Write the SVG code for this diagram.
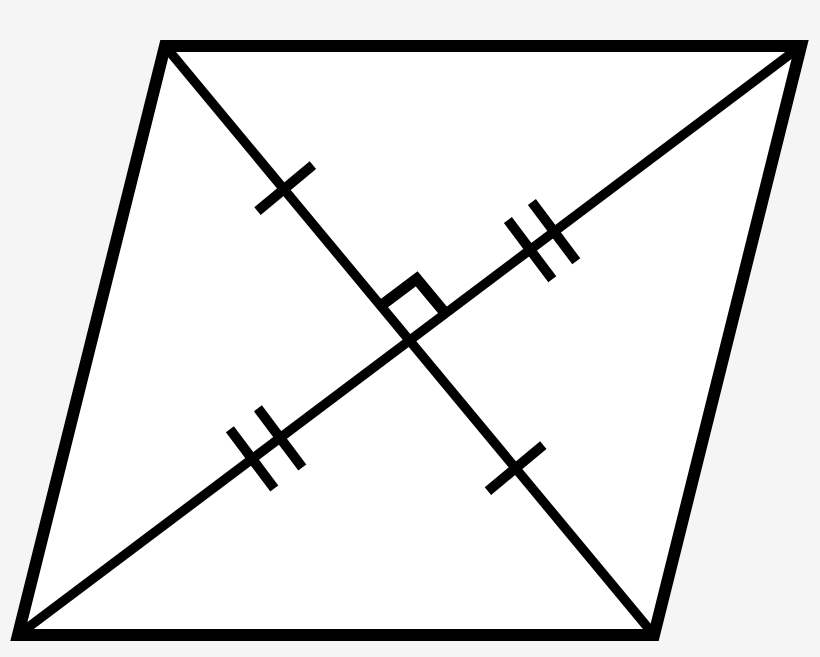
<svg xmlns="http://www.w3.org/2000/svg" width="820" height="657" viewBox="0 0 820 657">
<style>
.edge{fill:#ffffff;stroke:#000;stroke-width:12;stroke-linejoin:miter;stroke-miterlimit:10}
.ln{fill:none;stroke:#000;stroke-width:9.5;stroke-linecap:butt}
.tk{fill:none;stroke:#000;stroke-width:10;stroke-linecap:butt}
.sq{fill:none;stroke:#000;stroke-width:11;stroke-linejoin:miter}
</style>
<rect width="820" height="657" fill="#f5f5f5"/>
<g id="rhombus">
<polygon class="edge" points="165,46 801,46 654,635 18,635"/>
</g>
<g id="diagonals">
<line class="ln" x1="165" y1="46" x2="654" y2="635"/>
<line class="ln" x1="801" y1="46" x2="18" y2="635"/>
</g>
<g id="right-angle">
<polyline class="sq" points="380.7,305.9 416.7,278.9 445.5,313.5"/>
</g>
<g id="ticks">
<line class="tk" x1="257.5" y1="211.1" x2="312.9" y2="165.1"/>
<line class="tk" x1="487.9" y1="491.2" x2="543.3" y2="445.2"/>
<line class="tk" x1="507.9" y1="220.1" x2="552.3" y2="279.3"/>
<line class="tk" x1="531.9" y1="202.1" x2="576.3" y2="261.3"/>
<line class="tk" x1="257.9" y1="408.3" x2="302.3" y2="467.5"/>
<line class="tk" x1="229.9" y1="429.3" x2="274.3" y2="488.5"/>
</g>
</svg>
